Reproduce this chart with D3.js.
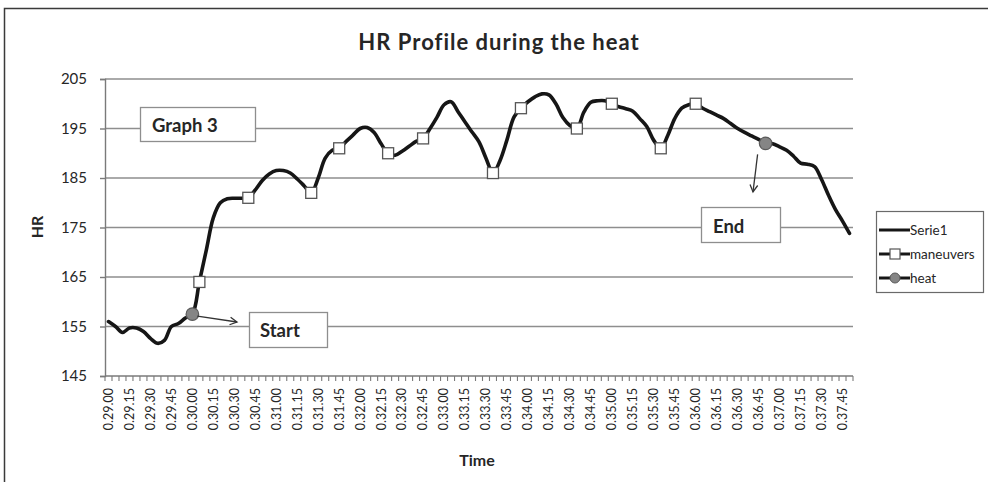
<!DOCTYPE html>
<html>
<head>
<meta charset="utf-8">
<script src="https://cdn.jsdelivr.net/npm/d3@7"></script>
<style>
  html, body { margin: 0; padding: 0; background: #fff; }
  svg { display: block; font-family: Lato, "Open Sans", "Liberation Sans", sans-serif; }
</style>
</head>
<body>
<svg id="chart" width="988" height="482"></svg>
<script>
// Time stamps (min.sec) of each heart-rate sample, every 5 seconds
const categories = [
  "0.29.00","0.29.05","0.29.10","0.29.15","0.29.20","0.29.25","0.29.30","0.29.35","0.29.40","0.29.45","0.29.50","0.29.55",
  "0.30.00","0.30.05","0.30.10","0.30.15","0.30.20","0.30.25","0.30.30","0.30.35","0.30.40","0.30.45","0.30.50","0.30.55",
  "0.31.00","0.31.05","0.31.10","0.31.15","0.31.20","0.31.25","0.31.30","0.31.35","0.31.40","0.31.45","0.31.50","0.31.55",
  "0.32.00","0.32.05","0.32.10","0.32.15","0.32.20","0.32.25","0.32.30","0.32.35","0.32.40","0.32.45","0.32.50","0.32.55",
  "0.33.00","0.33.05","0.33.10","0.33.15","0.33.20","0.33.25","0.33.30","0.33.35","0.33.40","0.33.45","0.33.50","0.33.55",
  "0.34.00","0.34.05","0.34.10","0.34.15","0.34.20","0.34.25","0.34.30","0.34.35","0.34.40","0.34.45","0.34.50","0.34.55",
  "0.35.00","0.35.05","0.35.10","0.35.15","0.35.20","0.35.25","0.35.30","0.35.35","0.35.40","0.35.45","0.35.50","0.35.55",
  "0.36.00","0.36.05","0.36.10","0.36.15","0.36.20","0.36.25","0.36.30","0.36.35","0.36.40","0.36.45","0.36.50","0.36.55",
  "0.37.00","0.37.05","0.37.10","0.37.15","0.37.20","0.37.25","0.37.30","0.37.35","0.37.40","0.37.45","0.37.50"
];

// Heart rate (bpm), Serie1
const hrValues = [
  156.0, 155.0, 153.8, 154.7, 154.7, 154.0, 152.6, 151.6, 152.2, 155.0, 155.6, 156.7,
  157.5, 164.0, 170.5, 177.0, 180.0, 180.8, 180.9, 180.9, 181.0, 182.6, 184.5, 185.8,
  186.5, 186.5, 186.0, 184.8, 183.4, 182.0, 185.0, 189.0, 190.6, 191.0, 192.4, 193.7,
  195.0, 195.2, 194.2, 191.9, 190.0, 189.6, 190.4, 191.4, 192.4, 193.0, 195.0, 197.3,
  199.8, 200.4, 198.4, 196.3, 194.3, 192.3, 189.0, 186.0, 188.5, 192.7, 197.3, 199.1,
  200.4, 201.4, 202.0, 201.8, 200.0, 197.2, 195.6, 195.0, 198.3, 200.3, 200.6, 200.6,
  200.0, 199.4, 199.0, 198.5, 197.0, 195.4, 192.6, 191.0, 193.6, 197.0, 199.1, 199.8,
  200.0, 199.1, 198.4, 197.7, 197.0, 196.0, 195.0, 194.2, 193.5, 192.8, 192.0, 191.9,
  191.3, 190.6, 189.4, 188.0, 187.8, 187.3, 184.7, 181.5, 178.6, 176.3, 173.8
];

// Moments of the maneuvers and of the heat start / end
const maneuverTimes = ["0.30.05","0.30.40","0.31.25","0.31.45","0.32.20","0.32.45","0.33.35","0.33.55","0.34.35","0.35.00","0.35.35","0.36.00"];
const heatTimes = ["0.30.00","0.36.50"];

// Axis labels
const tickLabels = [
  "0.29.00","0.29.15","0.29.30","0.29.45","0.30.00","0.30.15","0.30.30","0.30.45","0.31.00","0.31.15","0.31.30","0.31.45",
  "0.32.00","0.32.15","0.32.30","0.32.45","0.33.00","0.33.15","0.33.30","0.33.45","0.34.00","0.34.15","0.34.30","0.34.45",
  "0.35.00","0.35.15","0.35.30","0.35.45","0.36.00","0.36.15","0.36.30","0.36.45","0.37.00","0.37.15","0.37.30","0.37.45"
];
const yTicks = [145, 155, 165, 175, 185, 195, 205];
const legendItems = ["Serie1", "maneuvers", "heat"];

const svg = d3.select("#chart");

const plot = { left: 105, right: 853, top: 79, bottom: 376 };

const x = d3.scaleBand().domain(categories).range([plot.left, plot.right]).padding(0);
const cx = t => x(t) + x.bandwidth() / 2;
const y = d3.scaleLinear().domain([145, 205]).range([plot.bottom, plot.top]);

const hrAt = t => hrValues[categories.indexOf(t)];

// outer chart frame
svg.append("rect")
  .attr("x", 4.5).attr("y", 8.5).attr("width", 1000).attr("height", 500)
  .attr("fill", "#fff").attr("stroke", "#3a3a3a").attr("stroke-width", 1.5);

// title
svg.append("text")
  .attr("x", 499).attr("y", 50)
  .attr("text-anchor", "middle")
  .attr("font-size", 22).attr("font-weight", "bold").attr("fill", "#262626")
  .attr("letter-spacing", 1)
  .text("HR Profile during the heat");

// horizontal gridlines
svg.append("g").selectAll("line")
  .data(yTicks.filter(v => v > 145))
  .join("line")
  .attr("x1", plot.left).attr("x2", plot.right)
  .attr("y1", d => y(d)).attr("y2", d => y(d))
  .attr("stroke", "#8e8e8e").attr("stroke-width", 1.6);

// y axis
const yAxis = svg.append("g")
  .attr("transform", `translate(${plot.left},0)`)
  .call(d3.axisLeft(y).tickValues(yTicks).tickSize(5).tickPadding(13).tickFormat(d3.format("d")));
yAxis.select(".domain").attr("stroke", "#7a7a7a").attr("stroke-width", 1.4);
yAxis.selectAll(".tick line").attr("stroke", "#7a7a7a").attr("stroke-width", 1.4);
yAxis.selectAll(".tick text")
  .attr("font-family", "Lato, 'Open Sans', sans-serif")
  .attr("font-size", 15).attr("fill", "#262626");

// x axis baseline and category tick marks
svg.append("line")
  .attr("x1", plot.left).attr("x2", plot.right)
  .attr("y1", plot.bottom).attr("y2", plot.bottom)
  .attr("stroke", "#7a7a7a").attr("stroke-width", 1.4);
svg.append("g").selectAll("line")
  .data(categories.map(c => x(c)).concat([plot.right]))
  .join("line")
  .attr("x1", d => d).attr("x2", d => d)
  .attr("y1", plot.bottom).attr("y2", plot.bottom + 5)
  .attr("stroke", "#7a7a7a").attr("stroke-width", 1.1);

// x axis labels (rotated)
const xAxis = svg.append("g")
  .attr("transform", `translate(0,${plot.bottom})`)
  .call(d3.axisBottom(x).tickValues(tickLabels).tickSize(0).tickPadding(0));
xAxis.select(".domain").remove();
xAxis.selectAll(".tick text")
  .attr("font-family", "Lato, 'Open Sans', sans-serif")
  .attr("font-size", 12.5).attr("fill", "#262626")
  .attr("text-anchor", "end")
  .attr("dy", "0.35em")
  .attr("transform", "translate(0,12) rotate(-90)")
  .attr("x", 0).attr("y", 0);

// axis titles
svg.append("text")
  .attr("transform", "translate(43,227) rotate(-90)")
  .attr("text-anchor", "middle")
  .attr("font-size", 16).attr("font-weight", "bold").attr("fill", "#262626")
  .text("HR");
svg.append("text")
  .attr("x", 477).attr("y", 466)
  .attr("text-anchor", "middle")
  .attr("font-size", 16).attr("font-weight", "bold").attr("fill", "#262626")
  .text("Time");

// annotation boxes
function noteBox(x0, y0, w, h, label, tx, ty) {
  svg.append("rect")
    .attr("x", x0).attr("y", y0).attr("width", w).attr("height", h)
    .attr("fill", "#fff").attr("stroke", "#8e8e8e").attr("stroke-width", 1.3);
  svg.append("text")
    .attr("x", tx).attr("y", ty)
    .attr("font-size", 18.5).attr("font-weight", "bold").attr("fill", "#262626")
    .text(label);
}
noteBox(140.5, 107.5, 115, 34, "Graph 3", 152, 132);
noteBox(249.5, 312.5, 78, 35, "Start", 260, 337);
noteBox(701.5, 207.5, 79, 35, "End", 713, 233);

// HR line
const line = d3.line()
  .x((d, i) => cx(categories[i]))
  .y(d => y(d))
  .curve(d3.curveCatmullRom.alpha(0.5));
svg.append("path")
  .datum(hrValues)
  .attr("d", line)
  .attr("fill", "none")
  .attr("stroke", "#161616")
  .attr("stroke-width", 3.6)
  .attr("stroke-linejoin", "round")
  .attr("stroke-linecap", "round");

// maneuver markers
svg.append("g").selectAll("rect")
  .data(maneuverTimes)
  .join("rect")
  .attr("x", d => cx(d) - 5.5).attr("y", d => y(hrAt(d)) - 5.5)
  .attr("width", 11).attr("height", 11)
  .attr("fill", "#fff").attr("stroke", "#555").attr("stroke-width", 1.3);

// heat start / end markers
svg.append("g").selectAll("circle")
  .data(heatTimes)
  .join("circle")
  .attr("cx", d => cx(d)).attr("cy", d => y(hrAt(d)))
  .attr("r", 6.3)
  .attr("fill", "#858585").attr("stroke", "#5a5a5a").attr("stroke-width", 1.2);

// arrows from the heat markers to their notes
function arrow(x1, y1, x2, y2) {
  const g = svg.append("g").attr("stroke", "#333").attr("stroke-width", 1.3).attr("fill", "none");
  g.append("line").attr("x1", x1).attr("y1", y1).attr("x2", x2).attr("y2", y2);
  const a = Math.atan2(y2 - y1, x2 - x1), L = 8, s = 0.5;
  g.append("path").attr("d",
    `M${x2 - L * Math.cos(a - s)},${y2 - L * Math.sin(a - s)}L${x2},${y2}L${x2 - L * Math.cos(a + s)},${y2 - L * Math.sin(a + s)}`);
}
{
  const s = heatTimes[0], e = heatTimes[1];
  arrow(cx(s) + 5, y(hrAt(s)) + 2, 237, 322);
  arrow(cx(e) - 8, y(hrAt(e)) + 11, 753, 192);
}

// legend
const lg = svg.append("g");
lg.append("rect")
  .attr("x", 876.5).attr("y", 211.5).attr("width", 107).attr("height", 81)
  .attr("fill", "#fff").attr("stroke", "#6a6a6a").attr("stroke-width", 1.2);
const rowY = [230, 254, 278];
legendItems.forEach((name, i) => {
  const yy = rowY[i];
  lg.append("line")
    .attr("x1", 879).attr("x2", 910).attr("y1", yy).attr("y2", yy)
    .attr("stroke", "#161616").attr("stroke-width", 3);
  if (i === 1) {
    lg.append("rect").attr("x", 890).attr("y", yy - 5).attr("width", 10).attr("height", 10)
      .attr("fill", "#fff").attr("stroke", "#555").attr("stroke-width", 1.2);
  }
  if (i === 2) {
    lg.append("circle").attr("cx", 895).attr("cy", yy).attr("r", 5)
      .attr("fill", "#858585").attr("stroke", "#5a5a5a").attr("stroke-width", 1);
  }
  lg.append("text")
    .attr("x", 910).attr("y", yy + 4.5)
    .attr("font-size", 13.5).attr("fill", "#262626")
    .text(name);
});
</script>
</body>
</html>
